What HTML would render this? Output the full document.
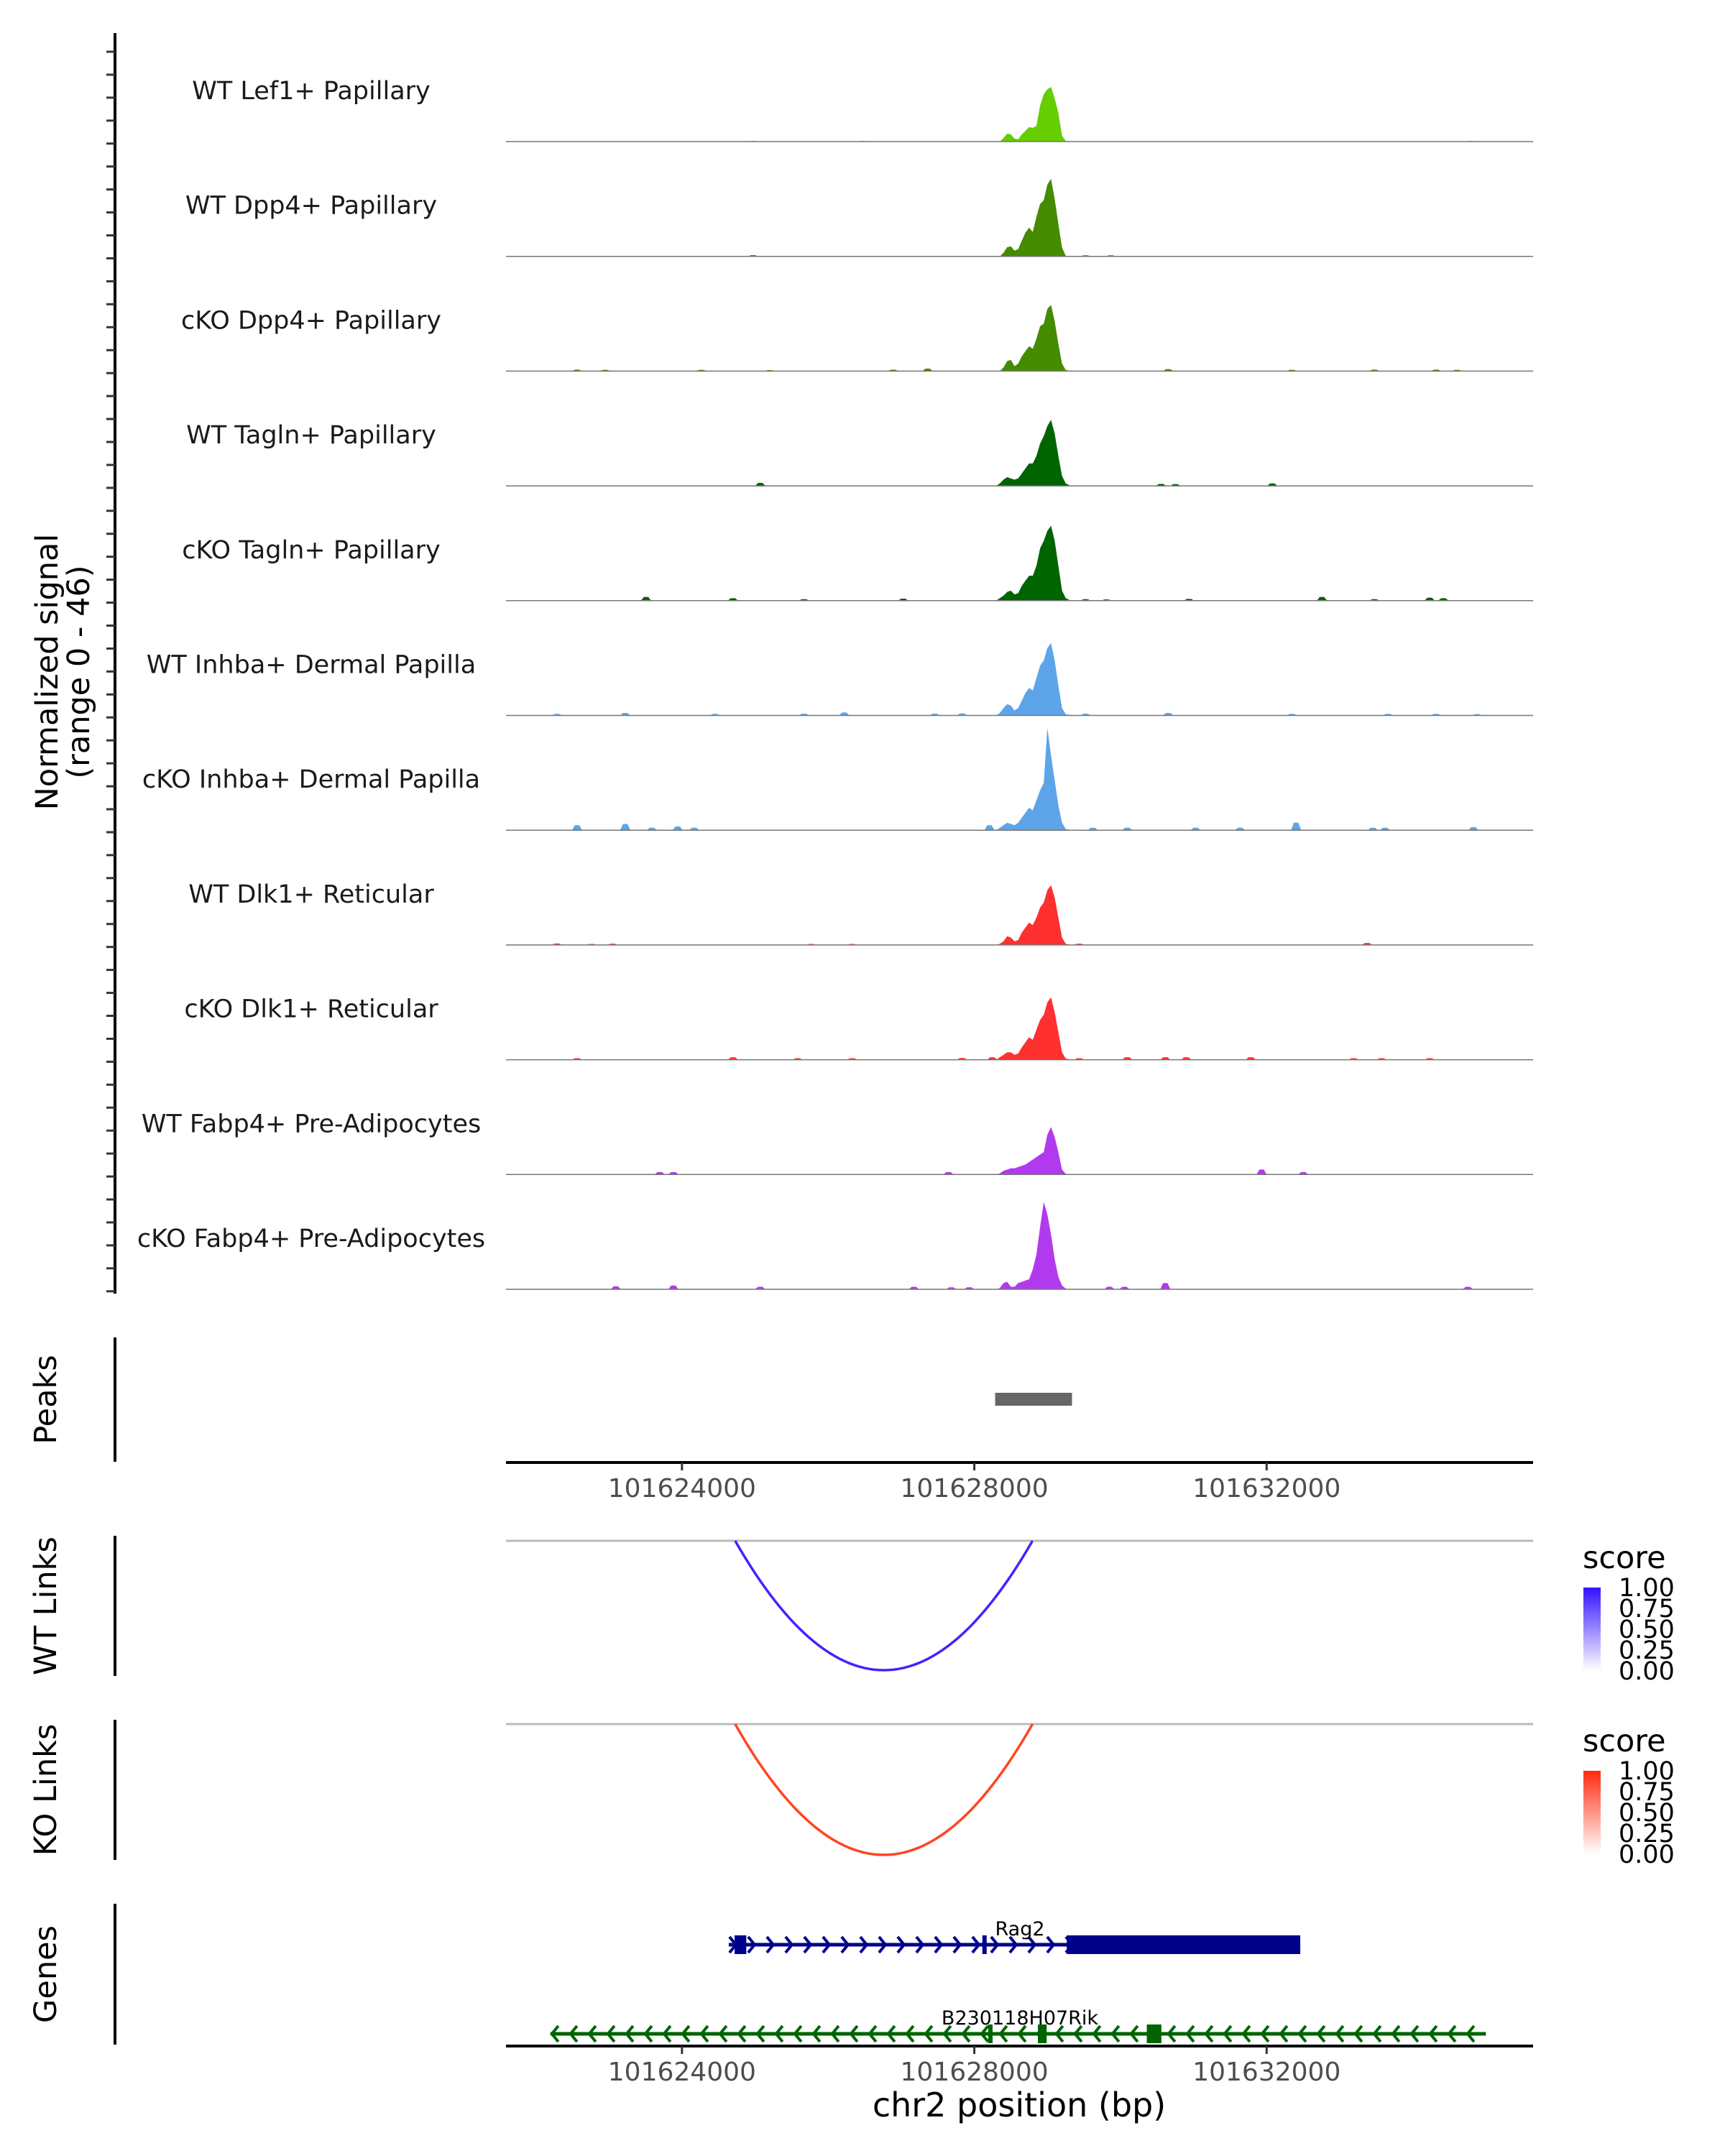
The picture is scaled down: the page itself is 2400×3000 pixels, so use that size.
<!DOCTYPE html>
<html><head><meta charset="utf-8">
<style>
html,body{margin:0;padding:0;background:#fff;}
svg{display:block;font-family:"DejaVu Sans","Liberation Sans",sans-serif;}
</style></head>
<body>
<svg id="chart" xmlns="http://www.w3.org/2000/svg" width="2400" height="3000" viewBox="0 0 2400 3000">
<rect width="2400" height="3000" fill="#fff"/>
<g id="tracks"></g>
<g id="axes"></g>
<g id="links"></g>
<g id="genes"></g>
</svg>
<script>
// ---- data ----
const binStart = 101628300, binStep = 50;
const trackNames = ["WT Lef1+ Papillary","WT Dpp4+ Papillary","cKO Dpp4+ Papillary","WT Tagln+ Papillary","cKO Tagln+ Papillary","WT Inhba+ Dermal Papilla","cKO Inhba+ Dermal Papilla","WT Dlk1+ Reticular","cKO Dlk1+ Reticular","WT Fabp4+ Pre-Adipocytes","cKO Fabp4+ Pre-Adipocytes"];
const trackColors = ["#66CD00","#458B00","#458B00","#006400","#006400","#5DA5E8","#5DA5E8","#FF3030","#FF3030","#B23AEE","#B23AEE"];
const t1 = [0,0,1.4,3.2,2.9,1.2,0.9,2.9,4.3,5.8,5.5,6.3,14.4,19,21,21.9,17.3,11.5,2.3,0.3,0.1];
const t2 = [0,0,1.4,3.7,4,2.3,2.9,6.3,9.5,11.5,9.8,15.9,21,22.5,28.8,31.1,23,13,3.5,0.3,0.1];
const t3 = [0,0,1.5,4,4.5,2,3,6,8,10,9,13,18,19,25,26.5,20,11,3,0.5,0.2];
const t4 = [0,1,2.5,3.5,3,2.5,3,5,7,9,9,12,17,20,24,26.5,21,12,4,1,0.3];
const t5 = [0,1,2,3.5,4,2.5,3,6,8,10,10,14,21,24,28,30,24,14,4,1,0.3];
const t6 = [0,1,3,4.5,4,2,3,6,9,11,10,15,20,22,27,29,22,12,3,0.5,0.2];
const t7 = [0,1,2,3,2.5,2,3,5,7,9,8,12,16,19,41,30,20,10,3,0.5,0.2];
const t8 = [0,0.5,1.5,3.5,3,1.5,2,5,7,9,8,11,15,17,22,24,19,11,3,0.5,0.2];
const t9 = [0,1,2,3,3,2,2.5,5,7,9,8,12,16,18,23,25,19,11,3,0.5,0.2];
const t10 = [0,0.5,1.5,2,2.5,2.5,3,3.5,4,5,6,7,8,9,16,19,15,9,2,0.3,0.1];
const t11 = [0,0.5,2.5,3,1,1,2.5,3,3.5,4,8,14,25,35,30,22,12,5,1.5,0.3,0.1];
const b1pos = [101624973,101626476,101634791]; const b1val = [0.3,0.3,0.3];
const b2pos = [101624973,101629523,101629867]; const b2val = [0.5,0.4,0.4];
const b3pos = [101622565,101622948,101624265,101625199,101626889,101627361,101630653,101632344,101633474,101634320,101634604]; const b3val = [0.6,0.5,0.5,0.4,0.6,1,0.8,0.5,0.6,0.6,0.5];
const b4pos = [101625071,101630555,101630752,101632078]; const b4val = [1.2,0.8,0.7,1];
const b5pos = [101623508,101624698,101625670,101627027,101629523,101629808,101630938,101632757,101633474,101634231,101634418]; const b5val = [1.5,1,0.6,0.8,0.6,0.5,0.7,1.5,0.6,1.2,1];
const b6pos = [101622290,101623224,101624452,101625670,101626221,101627459,101627833,101629523,101630653,101632344,101633661,101634320,101634880]; const b6val = [0.6,1,0.6,0.7,1.2,0.7,0.8,0.7,1,0.6,0.6,0.6,0.5];
const b7pos = [101622565,101623224,101623587,101623941,101624167,101628207,101629622,101630093,101631027,101631636,101632403,101633454,101633621,101634830]; const b7val = [2,2.5,1,1.5,1,2,1,1,1,1,3,1,1,1.2];
const b8pos = [101622290,101622765,101623050,101625768,101626329,101628776,101629435,101633376]; const b8val = [0.6,0.4,0.5,0.4,0.4,0.3,0.5,0.8];
const b9pos = [101622565,101624698,101625582,101626329,101627833,101628246,101629435,101630093,101630614,101630900,101631783,101633189,101633572,101634231]; const b9val = [0.6,1,0.6,0.6,0.7,1,0.6,1,1,1,1,0.6,0.6,0.6];
const b10pos = [101623695,101623882,101627646,101631931,101632501]; const b10val = [1,1,1,2,1];
const b11pos = [101623095,101623882,101625071,101627174,101627685,101627931,101628433,101629848,101630054,101630614,101634752]; const b11val = [1.2,1.5,1,1,0.8,0.8,2.5,1,1,2.5,1];
const peakStart = 101628285, peakEnd = 101629337;
const xTicks = [101624000,101628000,101632000];
const linkStart = 101624727, linkEnd = 101628796, linkScore = 1.0;
const legendTicks = ["1.00","0.75","0.50","0.25","0.00"];
const rag2Start = 101624640, rag2End = 101632460;
const rag2Exons = [[101624720,101624880],[101628110,101628150],[101629265,101632460]];
const bGeneStart = 101622200, bGeneEnd = 101635000;
const bGeneExons = [[101628190,101628250],[101628870,101628990],[101630360,101630560]];

// ---- scales ----
const X0 = 704, X1 = 2133, D0 = 101621592, D1 = 101635646;
const xs = v => X0 + (v - D0) / (D1 - D0) * (X1 - X0);
const baseY0 = 197, trackGap = 159.7, unitPx = 159.7 / 46;
const NS = "http://www.w3.org/2000/svg";
function mk(tag, attrs, parent) {
  const e = document.createElementNS(NS, tag);
  for (const k in attrs) e.setAttribute(k, attrs[k]);
  parent.appendChild(e); return e;
}
const tracks = document.getElementById("tracks");
const axes = document.getElementById("axes");
const links = document.getElementById("links");
const genes = document.getElementById("genes");
const peakVals = [t1,t2,t3,t4,t5,t6,t7,t8,t9,t10,t11];
const blipPos = [b1pos,b2pos,b3pos,b4pos,b5pos,b6pos,b7pos,b8pos,b9pos,b10pos,b11pos];
const blipVal = [b1val,b2val,b3val,b4val,b5val,b6val,b7val,b8val,b9val,b10val,b11val];

trackNames.forEach((name, i) => {
  const by = baseY0 + i * trackGap;
  const g = mk("g", {}, tracks);
  
  
  const lbl = mk("text", {x: 433, y: by - 59, "text-anchor": "middle", "font-size": 35, fill: "#1a1a1a"}, g);
  lbl.textContent = name;
  
  
  const vals = peakVals[i];
  let d = "M" + xs(binStart).toFixed(1) + "," + by;
  vals.forEach((v, k) => { d += " L" + xs(binStart + k * binStep).toFixed(1) + "," + (by - v * unitPx).toFixed(1); });
  d += " L" + xs(binStart + (vals.length - 1) * binStep).toFixed(1) + "," + by + " Z";
  const p = mk("path", {d: d, fill: trackColors[i]}, g);
  
  
  blipPos[i].forEach((bp, k) => {
    const h = blipVal[i][k] * unitPx;
    const xa = xs(bp - 70), xb = xs(bp - 30), xc = xs(bp + 30), xd = xs(bp + 70);
    const bl = mk("path", {d: `M${xa},${by} L${xb},${by - h} L${xc},${by - h} L${xd},${by} Z`, fill: trackColors[i]}, g);
    
    
  });
  const base = mk("line", {x1: X0, x2: X1, y1: by, y2: by, stroke: "#777", "stroke-width": 1.5}, g);
  
  
});

const la = mk("line", {x1: 160, x2: 160, y1: 46, y2: 1800, stroke: "#000", "stroke-width": 4}, axes);


for (let y = 72; y <= 1800; y += trackGap / 5) {
  const t = mk("line", {x1: 148, x2: 160, y1: y, y2: y, stroke: "#333", "stroke-width": 3}, axes);
  
  
}
const yt = mk("text", {transform: "translate(80,935) rotate(-90)", "text-anchor": "middle", "font-size": 43, fill: "#000"}, axes);


const ts1 = mk("tspan", {x: 0, dy: 0}, yt); ts1.textContent = "Normalized signal";
const ts2 = mk("tspan", {x: 0, dy: 44}, yt); ts2.textContent = "(range 0 - 46)";

[["Peaks",1861,2034],["WT Links",2137,2332],["KO Links",2393,2588],["Genes",2649,2845]].forEach(([t, a, b]) => {
  const l = mk("line", {x1: 160, x2: 160, y1: a, y2: b, stroke: "#000", "stroke-width": 4}, axes);
  
  
  const tx = mk("text", {transform: `translate(78,${(a + b) / 2}) rotate(-90)`, "text-anchor": "middle", "font-size": 43, fill: "#000"}, axes);
  tx.textContent = t;
  
  
});

const pk = mk("rect", {x: xs(peakStart), y: 1938, width: xs(peakEnd) - xs(peakStart), height: 18, fill: "#666"}, axes);



function xAxis(y) {
  const l = mk("line", {x1: X0, x2: X1, y1: y, y2: y, stroke: "#000", "stroke-width": 4}, axes);
  
  
  xTicks.forEach(v => {
    const t = mk("line", {x1: xs(v), x2: xs(v), y1: y, y2: y + 11, stroke: "#333", "stroke-width": 3}, axes);
    
    
    const tx = mk("text", {x: xs(v), y: y + 48, "text-anchor": "middle", "font-size": 36, fill: "#4d4d4d"}, axes);
    tx.textContent = v;
    
    
  });
}
xAxis(2035);
xAxis(2847);
const xt = mk("text", {x: 1418, y: 2945, "text-anchor": "middle", "font-size": 46, fill: "#000"}, axes);
xt.textContent = "chr2 position (bp)";



const defs = mk("defs", {}, links);
[["gWT","#3311FF"],["gKO","#FF2A10"]].forEach(([id, c]) => {
  const lg = mk("linearGradient", {id: id, x1: 0, y1: 1, x2: 0, y2: 0}, defs);
  mk("stop", {offset: "0", "stop-color": "#fff"}, lg);
  mk("stop", {offset: "1", "stop-color": c}, lg);
});
function linkPanel(top, bottom, color, grad, nm) {
  const g = mk("g", {}, links);
  
  
  const ln = mk("line", {x1: X0, x2: X1, y1: top, y2: top, stroke: "#bbb", "stroke-width": 3}, g);
  
  
  const xa = xs(linkStart), xb = xs(linkEnd), depth = (bottom - top) * linkScore;
  let d = "";
  for (let k = 0; k <= 60; k++) {
    const t = k / 60; const x = xa + (xb - xa) * t; const y = top + depth * 4 * t * (1 - t);
    d += (k ? " L" : "M") + x.toFixed(1) + "," + y.toFixed(1);
  }
  const arc = mk("path", {d: d, fill: "none", stroke: color, "stroke-width": 3.5}, g);
  
  
  const lt = top + 22;
  const st = mk("text", {x: 2202, y: lt + 16, "font-size": 43, fill: "#000"}, g);
  st.textContent = "score";
  
  
  const by0 = lt + 43, by1 = by0 + 116;
  const cb = mk("rect", {x: 2203, y: by0, width: 24, height: by1 - by0, fill: `url(#${grad})`}, g);
  
  
  legendTicks.forEach((s, k) => {
    const y = by0 + k * (by1 - by0) / 4;
    const tx = mk("text", {x: 2252, y: y + 12, "font-size": 35, fill: "#000"}, g);
    tx.textContent = s;
    
    
  });
}
linkPanel(2144, 2324, "#4422FF", "gWT", "wt-links");
linkPanel(2399, 2581, "#FF4422", "gKO", "ko-links");

function gene(y, s, e, exons, dir, color, label, nm) {
  const g = mk("g", {}, genes);
  
  
  mk("line", {x1: xs(s), x2: xs(e), y1: y, y2: y, stroke: color, "stroke-width": 5}, g);
  for (let x = xs(s) + 6; x < xs(e) - 4; x += 26) {
    const d = dir > 0 ? `M${x - 5},${y - 11} L${x + 4},${y} L${x - 5},${y + 11}` : `M${x + 5},${y - 11} L${x - 4},${y} L${x + 5},${y + 11}`;
    mk("path", {d: d, fill: "none", stroke: color, "stroke-width": 4}, g);
  }
  exons.forEach(([a, b]) => {
    const ex = mk("rect", {x: xs(a), y: y - 13, width: Math.max(6, xs(b) - xs(a)), height: 26, fill: color}, g);
    
    
  });
  const tx = mk("text", {x: 1419, y: y - 13, "text-anchor": "middle", "font-size": 27, fill: "#000"}, g);
  tx.textContent = label;
  
  
}
gene(2706, rag2Start, rag2End, rag2Exons, 1, "#00008B", "Rag2", "gene-rag2");
gene(2830, bGeneStart, bGeneEnd, bGeneExons, -1, "#006400", "B230118H07Rik", "gene-b230118h07rik");
</script>
</body></html>
